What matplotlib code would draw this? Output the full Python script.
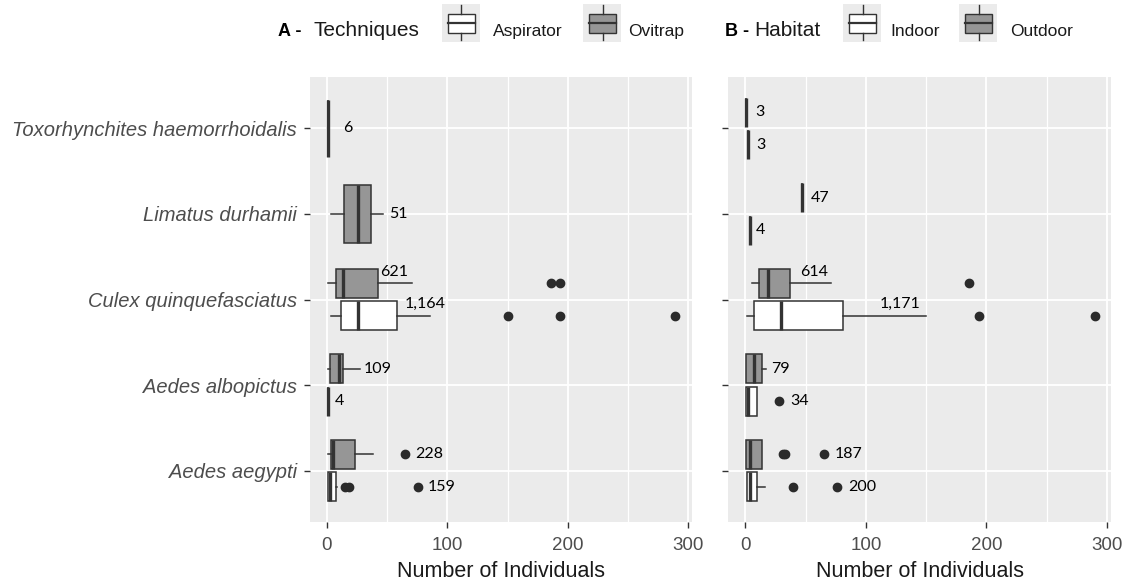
import numpy as np
import matplotlib.pyplot as plt
from matplotlib.patches import Rectangle

plt.rcParams['font.family'] = ['Liberation Sans', 'DejaVu Sans']

W, H = 1135, 585

species = ['Aedes aegypti', 'Aedes albopictus', 'Culex quinquefasciatus',
           'Limatus durhamii', 'Toxorhynchites haemorrhoidalis']
nan = np.nan

# A - Techniques (box summaries, bottom -> top)
ovi_lo = [1.3, 1.0, 1.3, 3.5, 1.3]
ovi_q1 = [3.5, 2.2, 7.7, 14.5, 1.3]
ovi_med = [5.0, 10.4, 13.7, 25.6, 1.3]
ovi_q3 = [23.4, 13.7, 42.1, 36.6, 1.3]
ovi_hi = [38.5, 27.5, 70.7, 46.2, 1.3]
ovi_out = [[64.7], [], [185.8, 193.2], [], []]
ovi_total = ['228', '109', '621', '51', '6']

asp_lo = [0.8, 0.8, 3.5, nan, nan]
asp_q1 = [0.8, 0.8, 11.8, nan, nan]
asp_med = [3.0, 0.8, 26.1, nan, nan]
asp_q3 = [7.4, 0.8, 58.6, nan, nan]
asp_hi = [8.5, 0.8, 85.3, nan, nan]
asp_out = [[15.1, 18.7, 75.6], [], [150.0, 193.5, 289.0], [], []]
asp_total = ['159', '4', '1,164', '', '']

# B - Habitat
outd_lo = [0.8, 0.8, 5.5, 46.8, 1.0]
outd_q1 = [0.8, 0.8, 11.8, 46.8, 1.0]
outd_med = [3.6, 7.4, 18.7, 46.8, 1.0]
outd_q3 = [13.8, 13.8, 37.2, 46.8, 1.0]
outd_hi = [13.8, 17.0, 70.8, 46.8, 1.0]
outd_out = [[31.1, 33.0, 65.2], [], [185.2], [], []]
outd_total = ['187', '79', '614', '47', '3']

ind_lo = [1.4, 0.8, 1.4, 3.6, 2.2]
ind_q1 = [1.4, 0.8, 6.9, 3.6, 2.2]
ind_med = [4.1, 2.0, 29.5, 3.6, 2.2]
ind_q3 = [10.2, 10.2, 80.7, 3.6, 2.2]
ind_hi = [16.5, 10.2, 149.5, 3.6, 2.2]
ind_out = [[39.9, 75.7], [28.3], [193.5, 289.6], [], []]
ind_total = ['200', '34', '1,171', '4', '3']

GRAY = '#969696'
EDGE = '#333333'
DOT = '#2b2b2b'

# where the count labels sit (x in data units, y shift from box centre)
lab_x_ovi = [73.7, 30.2, 44.6, 51.7, 13.7]
lab_x_asp = [83.4, 6.3, 64.7, 0, 0]
lab_x_outd = [74.3, 21.5, 45.4, 54.5, 8.3]
lab_x_ind = [85.4, 37.7, 111.5, 9.1, 9.1]
lab_dy = [0, 0, 0.135, 0, 0]


def make_group(lo, q1, med, q3, hi, out, total, fill, labx):
    return dict(lo=lo, q1=q1, med=med, q3=q3, hi=hi, out=out,
                total=total, fill=fill, labx=labx)


def draw_panel(ax, upper, lower):
    for i in range(len(species)):
        pos = i + 1
        has_up = not np.isnan(upper['med'][i])
        has_low = not np.isnan(lower['med'][i])
        both = has_up and has_low
        for g, has, sign in ((upper, has_up, 1), (lower, has_low, -1)):
            if not has:
                continue
            y = pos + sign * 0.19 if both else pos
            w = 0.34 if both else 0.67
            st = dict(whislo=g['lo'][i], q1=g['q1'][i], med=g['med'][i],
                      q3=g['q3'][i], whishi=g['hi'][i], fliers=g['out'][i])
            ax.bxp([st], positions=[y], widths=w, orientation='horizontal',
                   patch_artist=True, showcaps=False,
                   boxprops=dict(facecolor=g['fill'], edgecolor=EDGE, lw=1.1),
                   whiskerprops=dict(color=EDGE, lw=1.1),
                   medianprops=dict(color=EDGE, lw=2.4),
                   flierprops=dict(marker='o', markerfacecolor=DOT,
                                   markeredgecolor=DOT, markersize=6,
                                   linestyle='none'),
                   manage_ticks=False, zorder=3)
            ax.text(g['labx'][i], y + lab_dy[i], g['total'][i],
                    ha='left', va='center', fontsize=11.5,
                    family=['Lato', 'DejaVu Sans'], color='black', zorder=4)

    ax.set_facecolor('#ebebeb')
    ax.set_xlim(-14, 303)
    ax.set_ylim(0.4, 5.6)
    ax.set_xticks([0, 100, 200, 300])
    ax.set_xticks([50, 150, 250], minor=True)
    ax.set_yticks(range(1, len(species) + 1))
    ax.grid(True, which='major', color='white', lw=1.3)
    ax.grid(True, which='minor', axis='x', color='white', lw=0.9)
    ax.set_axisbelow(True)
    for s in ax.spines.values():
        s.set_visible(False)
    ax.tick_params(which='major', length=4.5, width=1.0, color=EDGE,
                   labelcolor='#4d4d4d', labelsize=13.5, pad=6)
    ax.tick_params(which='minor', length=0)
    ax.set_xlabel('Number of Individuals', fontsize=15.5, color='#1a1a1a',
                  labelpad=5)


fig = plt.figure(figsize=(W / 100, H / 100), dpi=100)
axA = fig.add_axes([310 / W, 1 - 522 / H, 382 / W, 445 / H])
axB = fig.add_axes([728.3 / W, 1 - 522 / H, 382.4 / W, 445 / H])

draw_panel(axA,
           make_group(ovi_lo, ovi_q1, ovi_med, ovi_q3, ovi_hi, ovi_out,
                      ovi_total, GRAY, lab_x_ovi),
           make_group(asp_lo, asp_q1, asp_med, asp_q3, asp_hi, asp_out,
                      asp_total, 'white', lab_x_asp))
draw_panel(axB,
           make_group(outd_lo, outd_q1, outd_med, outd_q3, outd_hi, outd_out,
                      outd_total, GRAY, lab_x_outd),
           make_group(ind_lo, ind_q1, ind_med, ind_q3, ind_hi, ind_out,
                      ind_total, 'white', lab_x_ind))

axA.set_yticklabels(species, style='italic', fontsize=14.5, color='#4d4d4d')
axA.tick_params(axis='y', pad=5)
axB.set_yticklabels([])

# legend row drawn in pixel space
lg = fig.add_axes([0, 0, 1, 1])
lg.set_xlim(0, W)
lg.set_ylim(H, 0)
lg.axis('off')


def key(x, fill):
    lg.add_patch(Rectangle((x, 3.5), 38, 38, facecolor='#ebebeb',
                           edgecolor='none'))
    cx = x + 19.5
    lg.plot([cx, cx], [5, 13.5], color=EDGE, lw=1.0)
    lg.plot([cx, cx], [32.5, 40], color=EDGE, lw=1.0)
    lg.add_patch(Rectangle((x + 6, 13.5), 27, 19, facecolor=fill,
                           edgecolor=EDGE, lw=1.0))
    lg.plot([x + 6, x + 33], [23, 23], color=EDGE, lw=1.6)


base = 36
lg.text(278, base, 'A -', fontsize=13, weight='bold', va='baseline')
lg.text(314, base, 'Techniques', fontsize=15, color='#1a1a1a', va='baseline')
key(441.7, 'white')
lg.text(493, base, 'Aspirator', fontsize=12.5, color='#1a1a1a', va='baseline')
key(583, GRAY)
lg.text(628, base, 'Ovitrap', fontsize=12.5, color='#1a1a1a', va='baseline')
lg.text(725, base, 'B -', fontsize=13, weight='bold', va='baseline')
lg.text(754, base, 'Habitat', fontsize=15, color='#1a1a1a', va='baseline')
key(843, 'white')
lg.text(890, base, 'Indoor', fontsize=12.5, color='#1a1a1a', va='baseline')
key(959, GRAY)
lg.text(1010, base, 'Outdoor', fontsize=12.5, color='#1a1a1a', va='baseline')

fig.savefig('out.png', dpi=100)
